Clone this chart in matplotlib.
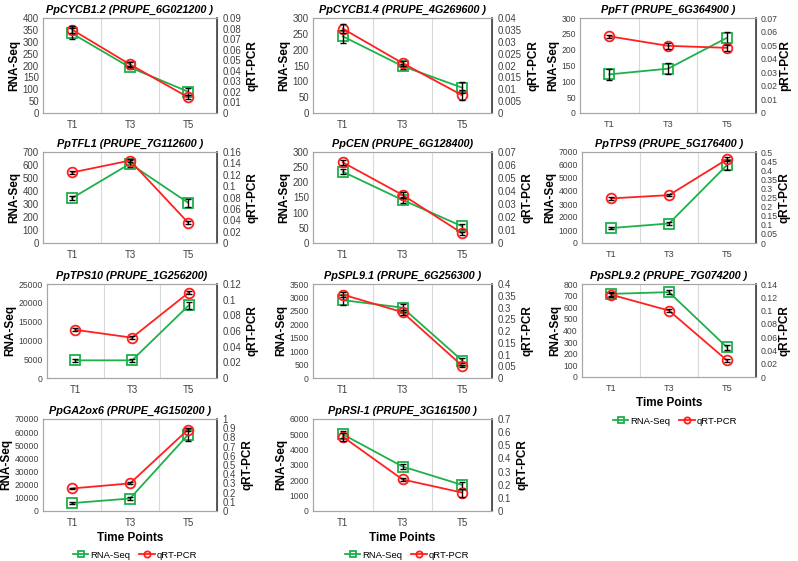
import matplotlib
matplotlib.use("Agg")
import matplotlib.pyplot as plt
from matplotlib.lines import Line2D
import numpy as np

plt.rcParams['font.family'] = ['Liberation Sans', 'DejaVu Sans']

time_points = ["T1", "T3", "T5"]

titles = [
    "PpCYCB1.2 (PRUPE_6G021200 )",
    "PpCYCB1.4 (PRUPE_4G269600 )",
    "PpFT (PRUPE_6G364900 )",
    "PpTFL1 (PRUPE_7G112600 )",
    "PpCEN (PRUPE_6G128400)",
    "PpTPS9 (PRUPE_5G176400 )",
    "PpTPS10 (PRUPE_1G256200)",
    "PpSPL9.1 (PRUPE_6G256300 )",
    "PpSPL9.2 (PRUPE_7G074200 )",
    "PpGA2ox6 (PRUPE_4G150200 )",
    "PpRSI-1 (PRUPE_3G161500 )",
]
right_labels = ["qRT-PCR", "qRT-PCR", "pRT-PCR", "qRT-PCR", "qRT-PCR", "qRT-PCR",
                "qRT-PCR", "qRT-PCR", "qRT-PCR", "qRT-PCR", "qRT-PCR"]

rna_seq = [
    [335, 192, 90],
    [242, 148, 80],
    [122, 140, 237],
    [345, 610, 310],
    [235, 142, 55],
    [1150, 1500, 6000],
    [4700, 4700, 19300],
    [2900, 2620, 650],
    [715, 730, 255],
    [6000, 9500, 58000],
    [5000, 2900, 1700],
]
rna_err = [
    [25, 8, 15],
    [20, 8, 18],
    [18, 18, 18],
    [15, 25, 30],
    [8, 10, 8],
    [100, 80, 350],
    [400, 400, 1000],
    [200, 150, 100],
    [20, 15, 20],
    [1000, 1000, 5000],
    [250, 150, 200],
]
qpcr = [
    [0.079, 0.046, 0.015],
    [0.0355, 0.021, 0.0075],
    [0.0565, 0.0495, 0.048],
    [0.124, 0.145, 0.036],
    [0.062, 0.037, 0.0075],
    [0.245, 0.263, 0.46],
    [0.0615, 0.0515, 0.109],
    [0.355, 0.28, 0.052],
    [0.124, 0.100, 0.025],
    [0.245, 0.30, 0.885],
    [0.565, 0.24, 0.14],
]
qpcr_err = [
    [0.003, 0.002, 0.002],
    [0.002, 0.001, 0.002],
    [0.001, 0.002, 0.002],
    [0.002, 0.003, 0.002],
    [0.002, 0.002, 0.001],
    [0.01, 0.005, 0.01],
    [0.002, 0.002, 0.002],
    [0.01, 0.01, 0.005],
    [0.003, 0.002, 0.002],
    [0.01, 0.01, 0.02],
    [0.03, 0.01, 0.03],
]
left_max = [400, 300, 300, 700, 300, 7000, 25000, 3500, 800, 70000, 6000]
left_step = [50, 50, 50, 100, 50, 1000, 5000, 500, 100, 10000, 1000]
right_max = [0.09, 0.04, 0.07, 0.16, 0.07, 0.5, 0.12, 0.4, 0.14, 1.0, 0.7]
right_step = [0.01, 0.005, 0.01, 0.02, 0.01, 0.05, 0.02, 0.05, 0.02, 0.1, 0.1]

# pixel boxes (left, top, right, bottom)
boxes = [
    (43, 18, 217, 113), (313, 18, 492, 113), (580, 18, 756, 113),
    (43, 152, 217, 243), (313, 152, 492, 243), (582, 152, 756, 243),
    (47, 284, 217, 378), (313, 284, 492, 378), (582, 284, 756, 377),
    (43, 419, 217, 511), (313, 419, 492, 511),
]
legend_pos = {8: (675, 421), 9: (135, 555), 10: (407, 555)}

W, H = 798, 561
fig = plt.figure(figsize=(W / 100, H / 100), dpi=100)
green = "#1fb04b"
red = "#ff2020"
spine_c = "#a6a6a6"
tick_c = "#404040"

def fmt(v):
    return ("%.3f" % v).rstrip("0").rstrip(".")

x = np.arange(3) + 0.5
for i in range(len(titles)):
    l, t, r, b = boxes[i]
    col3 = (i % 3 == 2)
    ax = fig.add_axes([l / W, 1 - b / H, (r - l) / W, (b - t) / H])
    ax2 = ax.twinx()
    ax.set_xlim(0, 3)
    ax.set_xticks(x)
    ax.set_xticklabels(time_points, fontsize=6.6 if col3 else 7, color=tick_c)
    ax.set_xticks([1, 2], minor=True)
    ax.grid(True, which="minor", axis="x", color="#d9d9d9", lw=0.8)
    ax.tick_params(axis="x", which="both", length=0, pad=5)
    ax.set_ylim(0, left_max[i])
    lt = np.arange(0, left_max[i] + left_step[i] / 2, left_step[i])
    llabels = [str(int(v)) for v in lt]
    lfs = 6.2 if (max(len(s) for s in llabels) >= 4 or col3) else 6.9
    ax.set_yticks(lt)
    ax.set_yticklabels(llabels, fontsize=lfs, color=tick_c)
    ax.tick_params(axis="y", length=0, pad=3)
    ax2.set_ylim(0, right_max[i])
    rt = np.arange(0, right_max[i] + right_step[i] / 2, right_step[i])
    ax2.set_yticks(rt)
    ax2.set_yticklabels([fmt(v) for v in rt], fontsize=6.3 if col3 else 6.9, color=tick_c)
    ax2.tick_params(axis="y", length=0, pad=3 if col3 else 4)
    for a in (ax, ax2):
        for s in a.spines.values():
            s.set_color(spine_c)
            s.set_linewidth(0.8)
    ax2.spines["right"].set_color("#404040")
    ax2.spines["right"].set_linewidth(1.2)

    ax.plot(x, rna_seq[i], color=green, lw=1.3, marker="s", ms=7, mfc="none",
            mec=green, mew=1.3, zorder=3)
    ax.errorbar(x, rna_seq[i], yerr=rna_err[i], fmt="none", ecolor="black",
                elinewidth=1.0, capsize=2.5, capthick=1.0, zorder=4)
    ax2.plot(x, qpcr[i], color=red, lw=1.3, marker="o", ms=7, mfc="none",
             mec=red, mew=1.3, zorder=3)
    ax2.errorbar(x, qpcr[i], yerr=qpcr_err[i], fmt="none", ecolor="black",
                 elinewidth=1.0, capsize=2.5, capthick=1.0, zorder=4)

    ax.set_title(titles[i], fontsize=7.8, fontweight="bold", style="italic", pad=4)
    ax.set_ylabel("RNA-Seq", fontsize=8.5, fontweight="bold", labelpad=1.5)
    ax2.set_ylabel(right_labels[i], fontsize=8.5, fontweight="bold",
                   labelpad=1 if col3 else 4)

    if i in legend_pos:
        ax.set_xlabel("Time Points", fontsize=8.5, fontweight="bold", labelpad=3)
        handles = [
            Line2D([], [], color=green, lw=1.3, marker="s", ms=4.5, mfc="none", mec=green, mew=1.3),
            Line2D([], [], color=red, lw=1.3, marker="o", ms=4.5, mfc="none", mec=red, mew=1.3),
        ]
        lx, ly = legend_pos[i]
        fig.legend(handles, ["RNA-Seq", "qRT-PCR"], loc="center",
                   bbox_to_anchor=(lx / W, 1 - ly / H), ncol=2, frameon=False,
                   fontsize=6.8, handlelength=1.6, handletextpad=0.2,
                   columnspacing=1.0, borderpad=0.1)

fig.savefig("out.png", dpi=100)
